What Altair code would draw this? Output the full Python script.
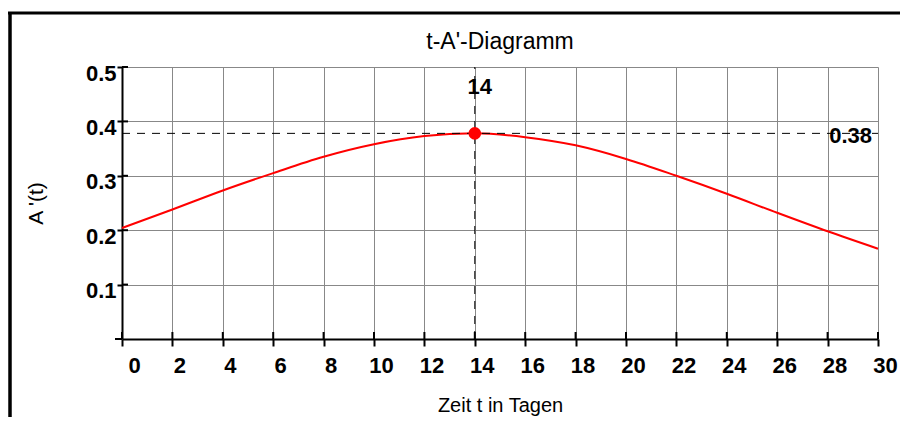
import altair as alt
import pandas as pd

# ---- data ----
t_days = [0, 2, 4, 6, 8, 10, 12, 14, 16, 18, 20, 22, 24, 26, 28, 30]
a_prime = [0.204, 0.238, 0.273, 0.305, 0.335, 0.358, 0.373, 0.378,
           0.371, 0.356, 0.331, 0.300, 0.267, 0.232, 0.198, 0.166]
x_ticks = [0, 2, 4, 6, 8, 10, 12, 14, 16, 18, 20, 22, 24, 26, 28, 30]
y_ticks = [0.1, 0.2, 0.3, 0.4, 0.5]
x_domain = [0, 30]
y_domain = [0, 0.5]
peak_t = [14]
peak_a = [0.378]
peak_t_label = ["14"]
peak_a_label = ["0.38"]
chart_title = ["t-A'-Diagramm"]

W, H = 756, 272
FONT = "Liberation Sans"

curve_df = pd.DataFrame({"t": t_days, "a": a_prime})
peak_df = pd.DataFrame({"t": peak_t, "a": peak_a, "lt": peak_t_label, "la": peak_a_label,
                        "x0": [x_domain[0]], "x1": [x_domain[1]],
                        "y0": [y_domain[0]], "y1": [y_domain[1]],
                        "title": chart_title})
xt_df = pd.DataFrame({"t": x_ticks})
yt_df = pd.DataFrame({"a": y_ticks})

xs = alt.Scale(domain=x_domain, nice=False, zero=False)
ys = alt.Scale(domain=y_domain, nice=False)

x_axis = alt.Axis(
    values=x_ticks, format="d", grid=True, gridColor="#888888", gridWidth=1,
    domainColor="black", domainWidth=2, tickColor="black", tickWidth=2, tickSize=7,
    labelFont=FONT, labelFontSize=22, labelFontWeight="bold", labelColor="black",
    labelPadding=9, labelBaseline="top", labelFlush=False,
    labelOffset={"condition": {"test": "datum.value == 0", "value": 12}, "value": 7},
    title="Zeit t in Tagen", titleFont=FONT, titleFontSize=20, titleFontWeight="normal",
    titleColor="black", titleY=72, titleBaseline="alphabetic",
)
y_axis = alt.Axis(
    values=y_ticks, format=".1f", grid=True, gridColor="#888888", gridWidth=1,
    domainColor="black", domainWidth=2, tickColor="black", tickWidth=2, tickSize=5,
    labelFont=FONT, labelFontSize=22, labelFontWeight="bold", labelColor="black",
    labelPadding=1, labelOffset=6, labelBaseline="middle",
    title="A '(t)", titleFont=FONT, titleFontSize=21, titleFontWeight="normal",
    titleColor="black", titleX=-86, titleBaseline="middle",
)

base_axes = alt.Chart(curve_df).mark_line(color="red", strokeWidth=2, interpolate="monotone").encode(
    x=alt.X("t:Q", scale=xs, axis=x_axis),
    y=alt.Y("a:Q", scale=ys, axis=y_axis),
)

h_dash = alt.Chart(peak_df).mark_rule(color="black", strokeWidth=1, strokeDash=[8, 7]).encode(
    x=alt.X("x0:Q", scale=xs), x2="x1:Q", y=alt.Y("a:Q", scale=ys))
v_dash = alt.Chart(peak_df).mark_rule(color="black", strokeWidth=1, strokeDash=[8, 7]).encode(
    x=alt.X("t:Q", scale=xs), y=alt.Y("y0:Q", scale=ys), y2="y1:Q")

dot = alt.Chart(peak_df).mark_circle(color="red", size=160, opacity=1).encode(
    x=alt.X("t:Q", scale=xs), y=alt.Y("a:Q", scale=ys))

lbl_t = alt.Chart(peak_df).mark_text(font=FONT, fontSize=22, fontWeight="bold", color="black",
                                     align="center", baseline="middle", dx=5, dy=20).encode(
    x=alt.X("t:Q", scale=xs), y=alt.Y("y1:Q", scale=ys), text="lt:N")
lbl_a = alt.Chart(peak_df).mark_text(font=FONT, fontSize=22, fontWeight="bold", color="black",
                                     align="right", baseline="middle", dx=-6, dy=3).encode(
    x=alt.X("x1:Q", scale=xs), y=alt.Y("a:Q", scale=ys), text="la:N")

title_txt = alt.Chart(peak_df).mark_text(font=FONT, fontSize=23, fontWeight="normal", color="black",
                                         align="center", baseline="alphabetic").encode(
    x=alt.value(W / 2), y=alt.value(-18), text="title:N")

# tick parts inside the plot (ticks cross the axes)
y_inner = alt.Chart(yt_df).mark_rule(color="black", strokeWidth=2).encode(
    y=alt.Y("a:Q", scale=ys), x=alt.value(0), x2=alt.value(6))
x_inner = alt.Chart(xt_df).mark_rule(color="black", strokeWidth=2).encode(
    x=alt.X("t:Q", scale=xs), y=alt.value(H - 7), y2=alt.value(H))
x_ext = alt.Chart(peak_df).mark_rule(color="black", strokeWidth=2).encode(
    x=alt.value(-7), x2=alt.value(0), y=alt.value(H))

# outer frame
frame_left = alt.Chart(peak_df).mark_rule(color="black", strokeWidth=3.5).encode(
    x=alt.value(-112), y=alt.value(-54), y2=alt.value(H + 80))
frame_top = alt.Chart(peak_df).mark_rule(color="black", strokeWidth=3).encode(
    x=alt.value(-114), x2=alt.value(W + 24), y=alt.value(-54))

chart = alt.layer(
    base_axes, h_dash, v_dash, y_inner, x_inner, x_ext, dot, lbl_t, lbl_a, title_txt,
    frame_left, frame_top
).properties(
    width=W, height=H,
    autosize=alt.AutoSizeParams(type="none"),
    padding={"left": 114, "top": 59, "right": 22, "bottom": 78},
    background="white",
).configure_view(stroke=None)

chart.save("out.html", embed_options={"renderer": "svg", "actions": False})
